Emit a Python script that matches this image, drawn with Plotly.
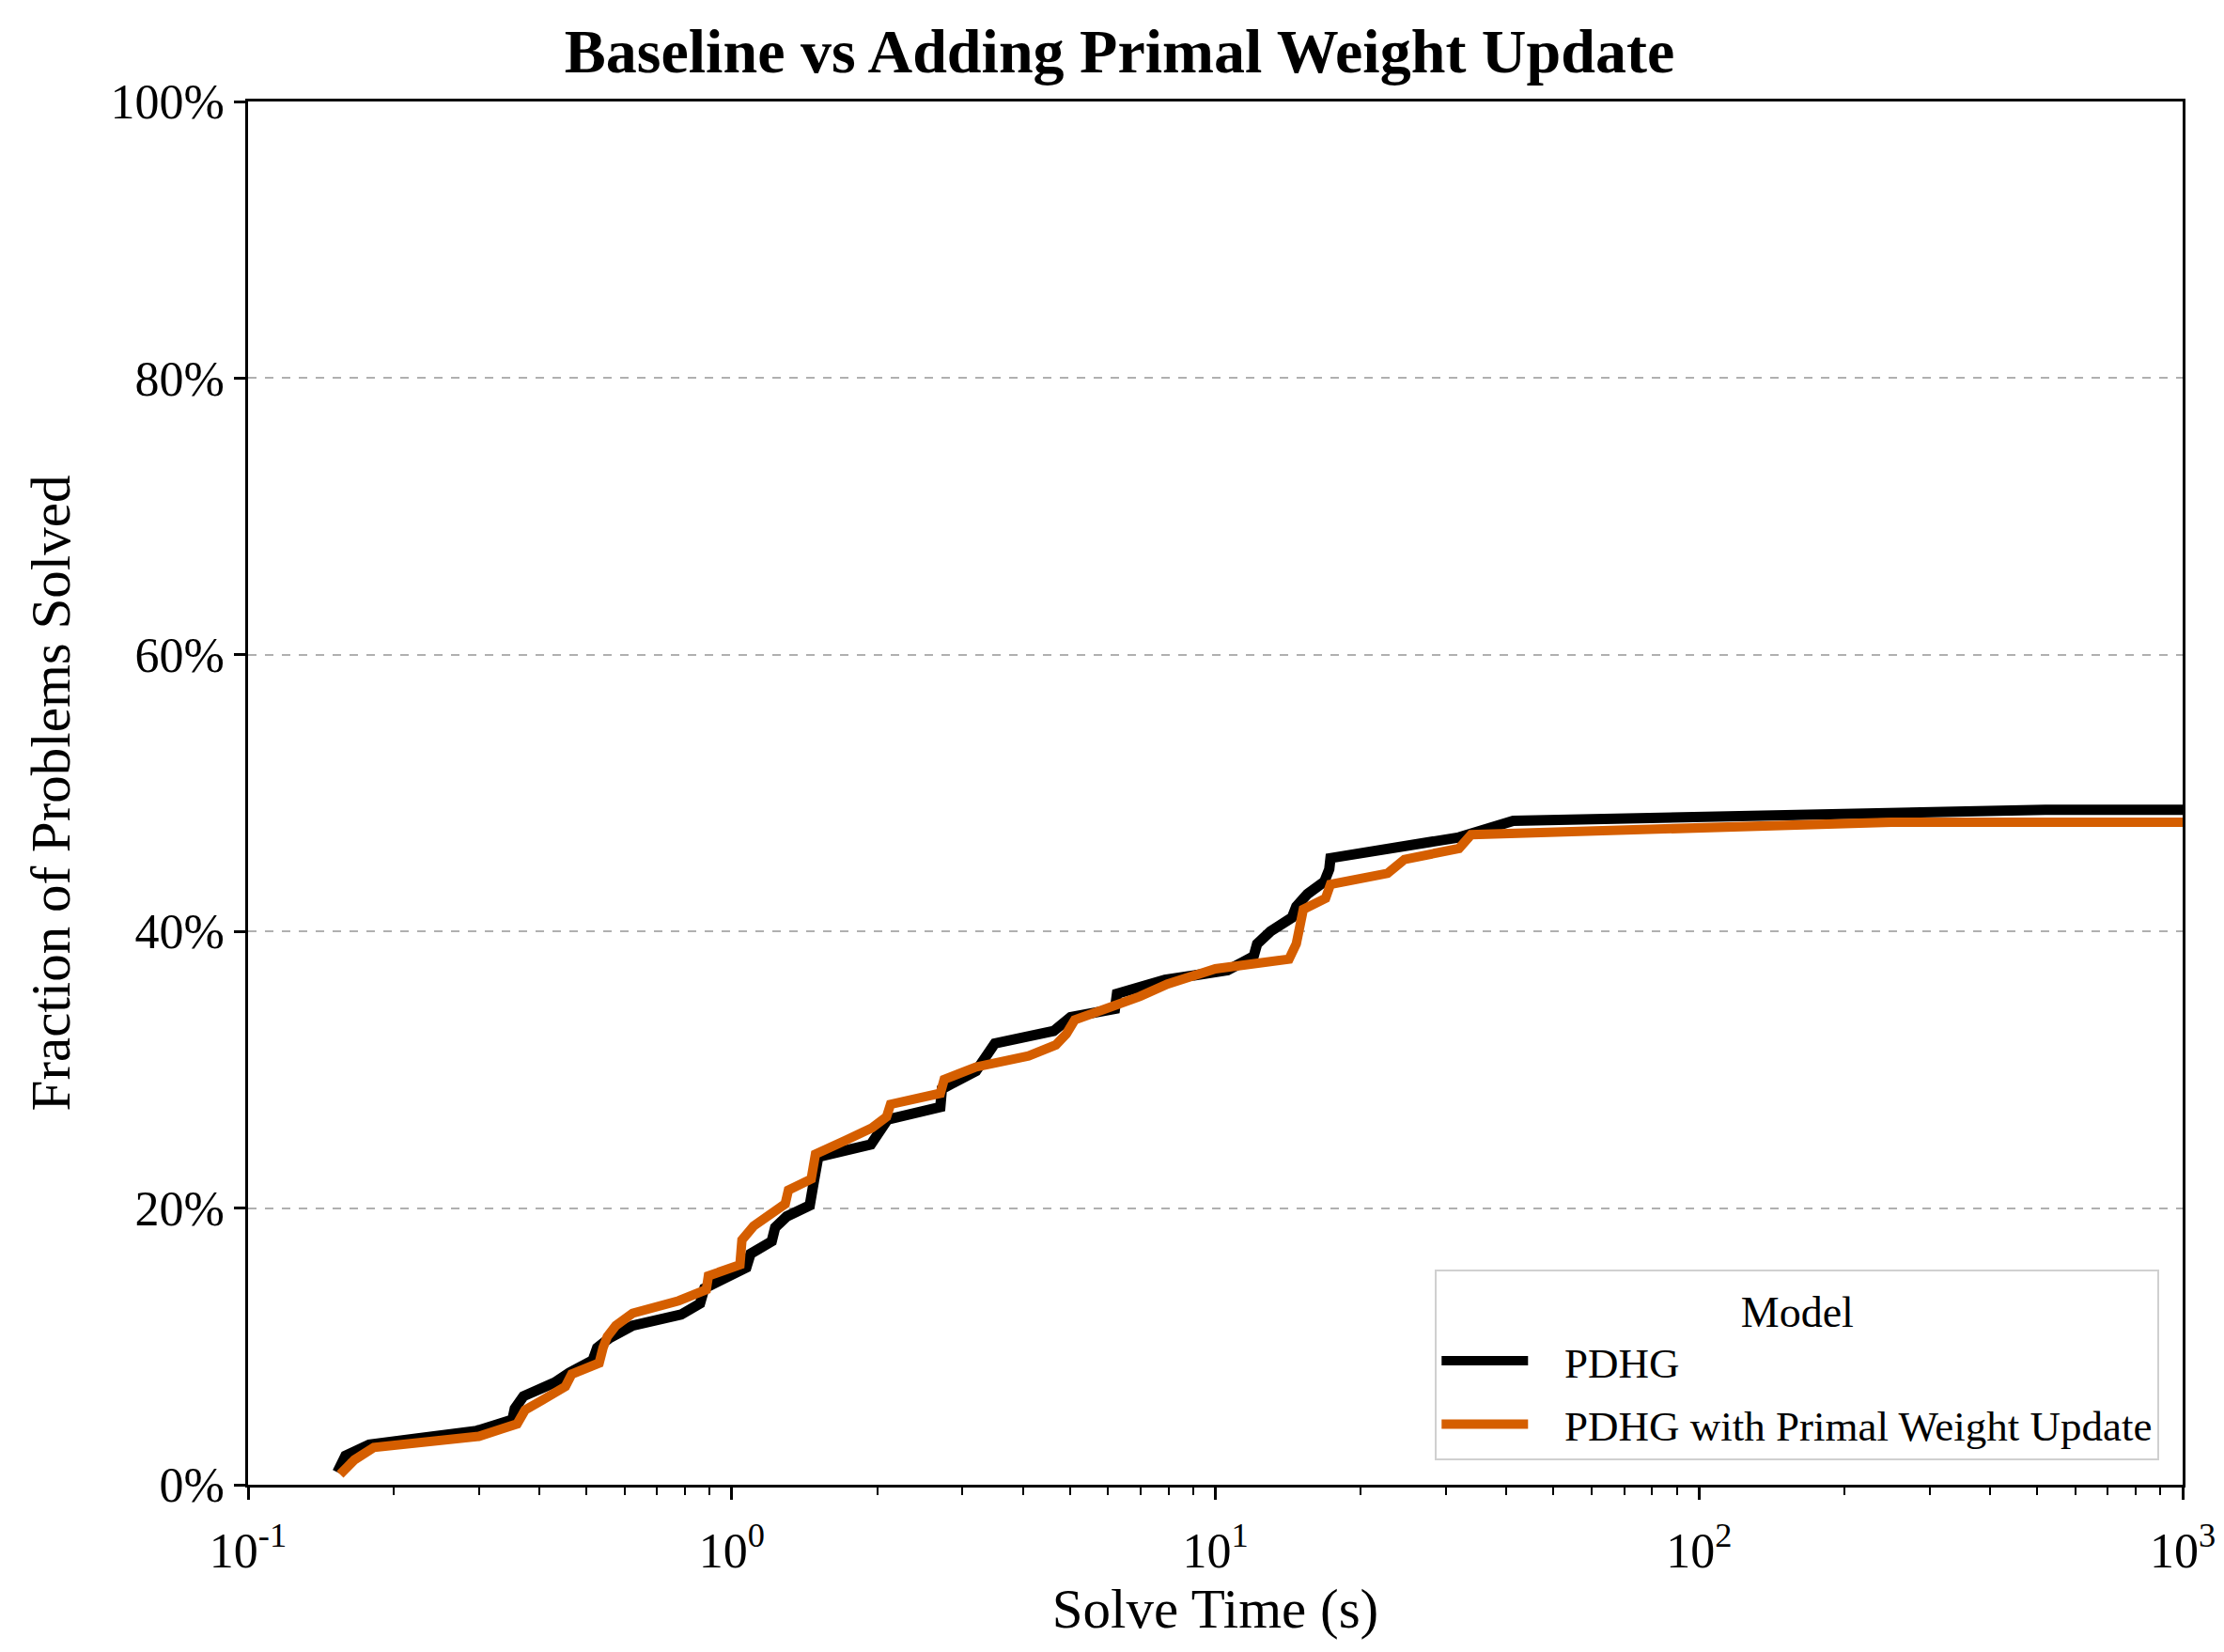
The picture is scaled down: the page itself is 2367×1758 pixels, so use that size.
import plotly.graph_objects as go

# ---- data ----
pdhg_time = [0.153, 0.159, 0.178, 0.297, 0.352, 0.356, 0.371, 0.431, 0.462, 0.516,
             0.527, 0.559, 0.624, 0.786, 0.860, 0.878, 1.072, 1.094, 1.21, 1.23,
             1.30, 1.45, 1.48, 1.51, 1.94, 2.10, 2.70, 2.72, 2.89, 3.20,
             3.50, 4.63, 5.02, 6.20, 6.26, 7.87, 10.6, 12.0, 12.2, 13.0,
             14.4, 14.7, 15.5, 16.8, 17.2, 17.3, 31.9, 41.3, 520, 1000]
pdhg_solved = [0.9, 2.1, 2.9, 3.9, 4.7, 5.5, 6.4, 7.4, 8.1, 9.0,
               9.9, 10.6, 11.5, 12.3, 13.1, 14.2, 15.7, 16.7, 17.6, 18.6,
               19.4, 20.2, 22.0, 23.7, 24.6, 26.4, 27.3, 28.6, 29.1, 29.9,
               31.9, 32.8, 33.8, 34.4, 35.5, 36.5, 37.2, 38.2, 39.1, 40.0,
               41.0, 41.8, 42.7, 43.6, 44.5, 45.3, 46.8, 48.0, 48.8, 48.8]

pwu_time = [0.155, 0.166, 0.182, 0.30, 0.36, 0.374, 0.405, 0.453, 0.467, 0.532,
            0.542, 0.553, 0.576, 0.624, 0.777, 0.886, 0.895, 1.04, 1.05, 1.11,
            1.29, 1.31, 1.46, 1.49, 1.72, 1.95, 2.09, 2.13, 2.70, 2.75,
            3.20, 4.11, 4.68, 4.92, 5.12, 6.07, 6.98, 7.96, 10.0, 14.2,
            14.7, 15.2, 16.9, 17.3, 22.7, 24.6, 31.9, 33.8, 250, 1000]
pwu_solved = [0.75, 1.8, 2.7, 3.5, 4.4, 5.4, 6.1, 7.1, 8.0, 8.8,
              9.9, 10.7, 11.5, 12.4, 13.3, 14.1, 15.1, 15.9, 17.7, 18.7,
              20.3, 21.3, 22.1, 23.9, 24.9, 25.8, 26.6, 27.5, 28.3, 29.3,
              30.2, 31.0, 31.8, 32.6, 33.6, 34.5, 35.3, 36.2, 37.3, 38.0,
              39.1, 41.6, 42.4, 43.4, 44.2, 45.2, 46.0, 47.0, 47.9, 47.9]

series_names = ["PDHG", "PDHG with Primal Weight Update"]
series_colors = ["#000000", "#D55E00"]
series_widths = [11, 10]

x_tickvals = [0.1, 1, 10, 100, 1000]
x_ticktext = ["10<sup>-1</sup>", "10<sup>0</sup>", "10<sup>1</sup>", "10<sup>2</sup>", "10<sup>3</sup>"]
x_minor_mult = [2, 3, 4, 5, 6, 7, 8, 9]
x_minor_decades = [0.1, 1, 10, 100]
y_tickvals = [0, 20, 40, 60, 80, 100]
y_ticktext = ["0%", "20%", "40%", "60%", "80%", "100%"]

FONT = "Liberation Serif"
NB = "\u00a0\u00a0\u00a0"

x_minor_vals = [m * d for d in x_minor_decades for m in x_minor_mult]

fig = go.Figure()
for i, (t, v, name, col, w) in enumerate([
        (pdhg_time, pdhg_solved, series_names[0], series_colors[0], series_widths[0]),
        (pwu_time, pwu_solved, series_names[1], series_colors[1], series_widths[1])]):
    fig.add_trace(go.Scatter(x=t, y=v, mode="lines", name=NB + name,
                             legendgroup=f"g{i}",
                             line=dict(color=col, width=w)))

fig.update_layout(
    width=2367, height=1758,
    margin=dict(l=256, r=52, t=100, b=186, autoexpand=False),
    paper_bgcolor="white", plot_bgcolor="white",
    font=dict(family=FONT, color="black", size=52),
    title=dict(text="<b>Baseline vs Adding Primal Weight Update</b>",
               font=dict(family=FONT, size=66, color="black"),
               x=0.5, xanchor="center", xref="container",
               y=1 - 46 / 1758, yanchor="middle", yref="container"),
    legend=dict(
        title=dict(text="Model", side="top center", font=dict(family=FONT, size=46)),
        font=dict(family=FONT, size=45, color="black"),
        x=0.988, xanchor="right", y=0.018, yanchor="bottom",
        bgcolor="white", bordercolor="#d0d0d0", borderwidth=2,
        itemwidth=92, tracegroupgap=6,
    ),
)

fig.update_xaxes(
    type="log", range=[-1, 3],
    tickvals=x_tickvals, ticktext=x_ticktext,
    ticks="outside", ticklen=13, tickwidth=2.5, tickcolor="black",
    ticklabelstandoff=10,
    minor=dict(tickvals=x_minor_vals, ticks="outside", ticklen=8, tickwidth=1.8,
               tickcolor="black", showgrid=False),
    showgrid=False, zeroline=False,
    showline=True, linecolor="black", linewidth=2.5, mirror=True,
    tickfont=dict(family=FONT, size=52, color="black"),
    title=dict(text="Solve Time (s)", font=dict(family=FONT, size=59, color="black"), standoff=0),
)
fig.update_yaxes(
    range=[0, 100],
    tickvals=y_tickvals, ticktext=y_ticktext,
    ticks="outside", ticklen=12, tickwidth=2.5, tickcolor="black",
    showgrid=True, gridcolor="#b0b0b0", griddash="dash", gridwidth=1.5,
    zeroline=False,
    showline=True, linecolor="black", linewidth=2.5, mirror=True,
    tickfont=dict(family=FONT, size=52, color="black"),
    title=dict(text="Fraction of Problems Solved", font=dict(family=FONT, size=59, color="black"), standoff=24),
)

fig.write_html("out.html")
